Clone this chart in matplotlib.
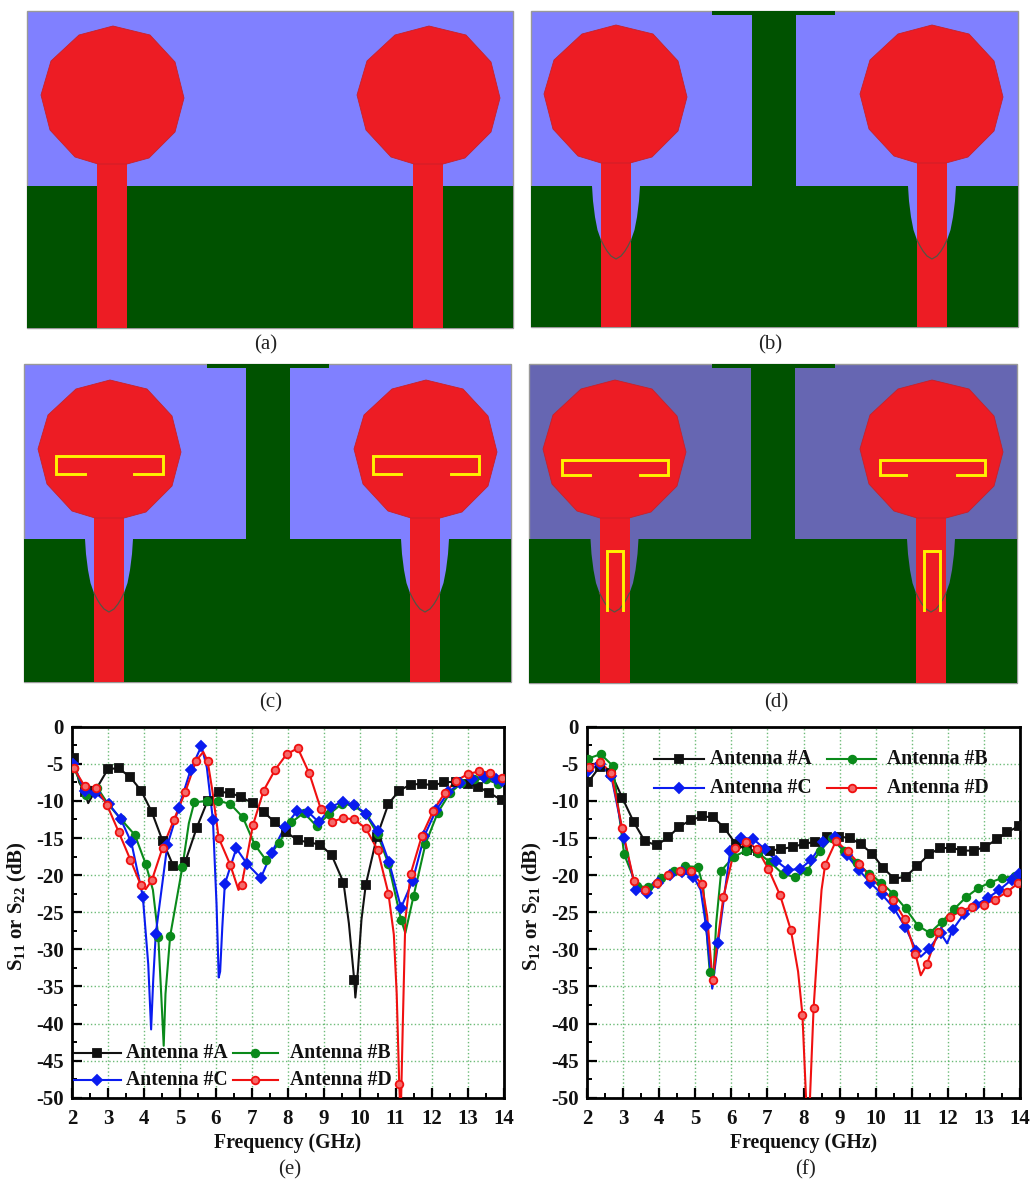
import numpy as np
import matplotlib
matplotlib.use("Agg")
import matplotlib.pyplot as plt
from matplotlib.patches import Polygon, Rectangle
from matplotlib.ticker import MultipleLocator

plt.rcParams['font.family'] = ['Liberation Serif', 'DejaVu Serif']
plt.rcParams['mathtext.fontset'] = 'custom'
plt.rcParams['mathtext.bf'] = 'Liberation Serif:bold'
plt.rcParams['mathtext.rm'] = 'Liberation Serif'
plt.rcParams['axes.unicode_minus'] = False

W, H = 1031, 1180

# --- curvas (e): puntos con marcador y puntos extra en los picos ---
e_a_x = [2.05, 2.35, 2.65, 3.0, 3.3, 3.62, 3.92, 4.22, 4.52, 4.82, 5.15, 5.47, 5.77, 6.08, 6.4, 6.7, 7.03, 7.33, 7.65, 7.95, 8.28, 8.6, 8.9, 9.22, 9.55, 9.85, 10.17, 10.48, 10.8, 11.1, 11.42, 11.73, 12.05, 12.35, 12.67, 13.0, 13.3, 13.6, 13.95]
e_a_y = [-4.2, -8.8, -8.6, -5.7, -5.6, -6.8, -8.6, -11.5, -15.4, -18.8, -18.2, -13.6, -10.0, -8.8, -8.9, -9.5, -10.3, -11.5, -12.9, -14.2, -15.3, -15.6, -15.9, -17.3, -21.0, -34.2, -21.3, -14.8, -10.4, -8.6, -7.8, -7.7, -7.9, -7.5, -7.4, -7.7, -8.1, -8.9, -9.9]
e_a_xd = [2.2, 2.45, 4.95, 9.7, 9.88, 9.95, 10.05]
e_a_yd = [-7.5, -10.3, -19.2, -26.5, -36.5, -33.0, -26.0]

e_b_x = [2.05, 2.38, 2.7, 3.0, 3.35, 3.75, 4.05, 4.4, 4.73, 5.07, 5.4, 5.75, 6.07, 6.4, 6.75, 7.08, 7.4, 7.75, 8.1, 8.45, 8.8, 9.15, 9.5, 9.83, 10.17, 10.5, 10.8, 11.15, 11.5, 11.83, 12.17, 12.5, 12.83, 13.17, 13.5, 13.85]
e_b_y = [-5.5, -9.2, -8.2, -10.4, -12.4, -14.6, -18.5, -28.3, -28.2, -18.9, -10.2, -10.0, -10.0, -10.4, -12.2, -15.9, -18.0, -15.7, -12.9, -11.6, -13.4, -11.8, -10.4, -10.6, -11.8, -14.5, -18.5, -26.0, -22.8, -15.8, -11.6, -9.0, -7.6, -7.0, -7.1, -7.7]
e_b_xd = [4.25, 4.48, 4.55, 4.6, 5.25, 11.27, 14.0]
e_b_yd = [-22.0, -36.0, -43.0, -36.0, -13.0, -27.8, -7.8]

e_c_x = [2.03, 2.35, 2.65, 3.02, 3.35, 3.65, 3.97, 4.33, 4.65, 4.97, 5.3, 5.6, 5.92, 6.25, 6.57, 6.87, 7.25, 7.55, 7.92, 8.25, 8.57, 8.87, 9.2, 9.53, 9.83, 10.17, 10.5, 10.82, 11.15, 11.47, 11.8, 12.13, 12.47, 12.8, 13.13, 13.47, 13.8, 13.97]
e_c_y = [-5.0, -8.6, -8.9, -10.4, -12.4, -15.6, -22.9, -27.9, -16.0, -10.9, -5.8, -2.6, -12.6, -21.2, -16.4, -18.5, -20.4, -17.0, -13.5, -11.4, -11.5, -12.9, -10.8, -10.1, -10.5, -11.7, -14.0, -18.3, -24.4, -20.8, -14.7, -11.2, -8.8, -7.6, -7.0, -6.8, -7.1, -7.3]
e_c_xd = [4.12, 4.2, 4.26, 5.75, 6.02, 6.08, 6.12, 6.18]
e_c_yd = [-32.0, -40.8, -34.0, -5.5, -24.0, -33.8, -33.0, -27.0]

e_d_x = [2.05, 2.35, 2.67, 2.97, 3.3, 3.62, 3.92, 4.22, 4.52, 4.83, 5.15, 5.45, 5.77, 6.08, 6.4, 6.72, 7.03, 7.33, 7.65, 7.97, 8.28, 8.6, 8.92, 9.23, 9.55, 9.85, 10.17, 10.5, 10.8, 11.1, 11.42, 11.73, 12.05, 12.37, 12.68, 13.0, 13.33, 13.63, 13.95]
e_d_y = [-5.6, -8.0, -8.2, -10.5, -14.2, -17.9, -21.4, -20.7, -16.3, -12.6, -8.8, -4.6, -4.6, -15.0, -18.6, -21.3, -13.3, -8.6, -5.8, -3.7, -2.9, -6.3, -11.1, -12.8, -12.3, -12.5, -13.7, -16.6, -22.5, -48.1, -19.8, -14.7, -11.3, -8.9, -7.3, -6.4, -6.0, -6.2, -6.9]
e_d_xd = [4.05, 5.65, 5.9, 6.63, 10.95, 11.03, 11.14, 11.2, 11.27]
e_d_yd = [-21.9, -3.4, -8.5, -22.0, -28.0, -36.0, -53.0, -40.0, -26.0]

# --- curvas (f) ---
f_a_x = [2.03, 2.35, 2.67, 2.98, 3.3, 3.6, 3.93, 4.25, 4.55, 4.87, 5.18, 5.5, 5.8, 6.12, 6.43, 6.75, 7.07, 7.38, 7.7, 8.0, 8.33, 8.65, 8.97, 9.28, 9.58, 9.9, 10.2, 10.52, 10.83, 11.15, 11.47, 11.78, 12.1, 12.4, 12.72, 13.03, 13.35, 13.65, 13.97]
f_a_y = [-7.5, -5.4, -6.3, -9.6, -12.9, -15.4, -16.0, -14.9, -13.5, -12.6, -12.1, -12.2, -13.6, -15.8, -16.6, -16.7, -16.7, -16.5, -16.2, -15.8, -15.5, -14.9, -14.8, -15.0, -15.8, -17.1, -19.0, -20.5, -20.2, -18.8, -17.2, -16.4, -16.3, -16.7, -16.7, -16.2, -15.2, -14.2, -13.4]

f_b_x = [2.03, 2.38, 2.72, 3.03, 3.38, 3.7, 4.05, 4.4, 4.72, 5.07, 5.4, 5.72, 6.07, 6.42, 6.75, 7.08, 7.42, 7.77, 8.1, 8.45, 8.78, 9.12, 9.47, 9.82, 10.15, 10.48, 10.83, 11.17, 11.5, 11.83, 12.17, 12.5, 12.83, 13.17, 13.5, 13.85]
f_b_y = [-4.3, -3.7, -5.3, -17.2, -21.5, -21.6, -20.4, -19.5, -18.8, -18.9, -33.0, -19.4, -17.5, -16.7, -17.0, -18.3, -19.8, -20.3, -19.4, -16.8, -15.0, -16.8, -18.4, -19.8, -21.0, -22.5, -24.5, -26.8, -27.8, -26.3, -24.6, -23.0, -21.8, -21.0, -20.4, -20.1]
f_b_xd = [5.22, 5.5, 5.58, 14.0]
f_b_yd = [-21.5, -34.0, -26.5, -19.9]

f_c_x = [2.03, 2.35, 2.67, 3.02, 3.35, 3.67, 3.98, 4.3, 4.62, 4.95, 5.3, 5.63, 5.97, 6.27, 6.6, 6.93, 7.25, 7.57, 7.9, 8.22, 8.55, 8.88, 9.2, 9.53, 9.85, 10.17, 10.5, 10.82, 11.13, 11.47, 11.8, 12.13, 12.45, 12.78, 13.1, 13.43, 13.77, 13.97]
f_c_y = [-6.0, -5.0, -6.6, -15.0, -22.0, -22.4, -21.0, -20.0, -19.6, -20.2, -26.9, -29.2, -16.7, -15.0, -15.1, -16.5, -18.1, -19.3, -19.2, -17.9, -15.5, -14.9, -17.3, -19.3, -21.0, -22.6, -24.4, -27.0, -30.2, -30.0, -27.8, -27.4, -25.2, -24.0, -23.1, -22.0, -20.6, -19.9]
f_c_xd = [5.15, 5.47, 11.25, 11.98]
f_c_yd = [-22.0, -35.3, -31.0, -29.2]

f_d_x = [2.05, 2.35, 2.67, 2.97, 3.3, 3.62, 3.93, 4.25, 4.57, 4.87, 5.18, 5.48, 5.78, 6.1, 6.42, 6.72, 7.03, 7.35, 7.65, 7.97, 8.28, 8.6, 8.9, 9.22, 9.55, 9.85, 10.17, 10.48, 10.8, 11.1, 11.42, 11.73, 12.05, 12.37, 12.67, 13.0, 13.3, 13.63, 13.95]
f_d_y = [-5.4, -4.7, -6.2, -13.6, -20.8, -22.0, -21.0, -20.0, -19.5, -19.5, -21.2, -34.2, -22.9, -16.3, -15.5, -16.5, -19.2, -22.7, -27.4, -38.8, -37.9, -18.6, -15.4, -16.8, -18.5, -20.2, -21.8, -23.4, -25.9, -30.6, -32.0, -27.7, -25.7, -24.8, -24.3, -24.0, -23.3, -22.3, -21.1]
f_d_xd = [5.33, 7.85, 8.07, 8.12, 8.18, 8.42, 8.5, 11.25]
f_d_yd = [-25.5, -33.0, -50.0, -56.0, -50.0, -27.5, -22.0, -33.5]

series_labels = ["Antenna #A", "Antenna #B", "Antenna #C", "Antenna #D"]
series_colors = ["#111111", "#0a8a1a", "#0a1cf0", "#f01010"]
series_markers = ["s", "o", "D", "o"]
panel_labels = ["(a)", "(b)", "(c)", "(d)", "(e)", "(f)"]
x_ticks = [2, 3, 4, 5, 6, 7, 8, 9, 10, 11, 12, 13, 14]
y_ticks = [0, -5, -10, -15, -20, -25, -30, -35, -40, -45, -50]

# --- geometria de las antenas, en pixeles de la imagen ---
patch_shape = [(0, -69), (37, -60), (62, -33), (71, 3), (62, 37), (36, 63), (14, 69), (-15, 69), (-38, 62), (-63, 35), (-72, 0), (-62, -34), (-34, -60)]
slot_shape = [(24, 0), (23, 15), (21, 31), (18.5, 44), (15, 54), (12, 60), (9, 65), (5, 70), (0, 73)]

# left, right, top, bottom, y de la tierra, y del parche, x de los parches, x de las lineas
board_a = (27, 513, 11, 327.5, 186, 95, (113, 429), (97, 413))
board_b = (531, 1017.5, 11, 327, 186, 94, (616, 932), (601, 917))
board_c = (24, 511, 364, 682, 539, 449, (110, 426), (94, 410))
board_d = (529, 1017, 364, 683, 539, 449, (615, 932), (599.5, 916))
stub_b = (752, 796, 712, 835)
stub_c = (246, 290, 207, 329)
stub_d = (751, 795, 712, 835)
c_slot_c = [(55.5, 162.5, 456, 474, 85, 134), (372.5, 478.5, 456, 474, 401, 451)]
c_slot_d = [(562, 668, 459.5, 475, 590, 640), (879.5, 985, 459.5, 475, 906, 957)]
u_slot_d = [(607, 623, 550.5, 610), (924, 939.5, 550.5, 610)]

BLUE = "#8080ff"
BLUE_D = "#6666b2"
GREEN = "#005200"
RED = "#ed1c24"
YELLOW = "#fff200"


def dibujar_placa(ax, board, stub=None, sub=BLUE, slots=False, c_slots=None, u_slots=None):
    left, right, top, bottom, yg, yp, xps, xfs = board
    ax.add_patch(Rectangle((left, top), right - left, bottom - top, fc=sub, ec="#999999", lw=1, zorder=1))
    ax.add_patch(Rectangle((left, yg), right - left, bottom - yg, fc=GREEN, ec="none", zorder=2))
    if stub:
        x0, x1, b0, b1 = stub
        ax.add_patch(Rectangle((x0, top), x1 - x0, yg - top + 1, fc=GREEN, ec="none", zorder=2))
        ax.add_patch(Rectangle((b0, top), b1 - b0, 4, fc=GREEN, ec="none", zorder=2))
    for xp, xf in zip(xps, xfs):
        if slots:
            cx = xf + 15
            ri = [(cx + a, yg + b) for a, b in slot_shape]
            le = [(cx - a, yg + b) for a, b in slot_shape[::-1]]
            ax.add_patch(Polygon(ri + le, closed=True, fc=sub, ec="none", zorder=3))
        ax.add_patch(Rectangle((xf, yp + 60), 30, bottom - yp - 60, fc=RED, ec="none", zorder=4))
        ax.add_patch(Polygon([(xp + a, yp + b) for a, b in patch_shape], closed=True, fc=RED, ec="#c8202a", lw=0.6, zorder=4))
        if slots:
            arc = [(cx + a, yg + b) for a, b in slot_shape if a <= 16][::-1]
            arc = [(cx - a, yg + b) for a, b in slot_shape if a <= 16] + arc[1:]
            ax.plot([p[0] for p in arc], [p[1] for p in arc], color="#555544", lw=0.9, zorder=5)
    for x0, x1, y0, y1, a0, a1 in (c_slots or []):
        ax.plot([a0, x0, x0, x1, x1, a1], [y1, y1, y0, y0, y1, y1], color=YELLOW, lw=2.1, solid_joinstyle="miter", zorder=6)
    for x0, x1, y0, y1 in (u_slots or []):
        ax.plot([x0, x0, x1, x1], [y1, y0, y0, y1], color=YELLOW, lw=2.1, solid_joinstyle="miter", zorder=6)


def dibujar_curvas(ax, curvas):
    for (xm, ym, xd, yd), col, mk in zip(curvas, series_colors, series_markers):
        # la linea pasa por los marcadores y por los puntos extra de los picos
        xs = np.array(list(xm) + list(xd))
        ys = np.array(list(ym) + list(yd))
        orden = np.argsort(xs)
        ms = 5 if mk == "D" else 5.5
        ax.plot(xs[orden], ys[orden], color=col, lw=1.5, zorder=3)
        mfc = "#f46a6a" if col == "#f01010" else col
        ax.plot(xm, ym, ls="none", marker=mk, ms=ms, mfc=mfc, mec=col, mew=1.3, zorder=4)


def leyenda(ax, idx, x0, largo, y0, y1, pad):
    # una columna de la leyenda: (x0, x0+largo) en GHz, fila superior y0 e inferior y1
    for i, yy in zip(idx, (y0, y1)):
        col, mk = series_colors[i], series_markers[i]
        ax.plot([x0, x0 + largo], [yy, yy], color=col, lw=1.5, zorder=6)
        mfc = "#f46a6a" if i == 3 else col
        ax.plot([x0 + largo / 2], [yy], marker=mk, ms=5.5, mfc=mfc, mec=col, mew=1.3, zorder=6)
        ax.text(x0 + largo + pad, yy, series_labels[i], fontsize=14.2, fontweight="bold", color="#111111", va="center", ha="left", zorder=6)


def formato_ejes(ax, ylabel):
    ax.set_xlim(2, 14)
    ax.set_ylim(-50, 0)
    ax.set_xticks(x_ticks)
    ax.set_yticks(y_ticks)
    ax.xaxis.set_minor_locator(MultipleLocator(0.5))
    ax.yaxis.set_minor_locator(MultipleLocator(2.5))
    ax.tick_params(which="major", direction="in", length=7, width=1.6, labelsize=15)
    ax.tick_params(axis="x", which="major", pad=8)
    ax.tick_params(axis="y", which="major", pad=6)
    ax.tick_params(which="minor", direction="in", length=3.5, width=1.4)
    for lab in ax.get_xticklabels() + ax.get_yticklabels():
        lab.set_fontweight("bold")
        lab.set_color("#111111")
    for s in ax.spines.values():
        s.set_linewidth(2)
    ax.grid(True, which="major", color="#2f9f3f", ls=":", lw=1.0, alpha=0.7)
    ax.set_axisbelow(True)
    ax.set_xlabel("Frequency (GHz)", fontsize=14.2, fontweight="bold", color="#111111", labelpad=3)
    ax.set_ylabel(ylabel, fontsize=15, fontweight="bold", color="#111111")
    ax.yaxis.set_label_coords(-0.10, 0.517)


fig = plt.figure(figsize=(W / 100, H / 100), dpi=100)

# capa de fondo en pixeles para las cuatro placas
bg = fig.add_axes([0, 0, 1, 1])
bg.set_xlim(0, W)
bg.set_ylim(H, 0)
bg.axis("off")
dibujar_placa(bg, board_a)
dibujar_placa(bg, board_b, stub=stub_b, slots=True)
dibujar_placa(bg, board_c, stub=stub_c, slots=True, c_slots=c_slot_c)
dibujar_placa(bg, board_d, stub=stub_d, sub=BLUE_D, slots=True, c_slots=c_slot_d, u_slots=u_slot_d)

label_pos = [(266, 345), (770, 345), (271, 703), (776, 703), (290, 1170), (805, 1170)]
for txt, (px, py) in zip(panel_labels, label_pos):
    bg.text(px, py, txt, fontsize=15, ha="center", va="center", color="#222222")

ax_e = fig.add_axes([72 / W, 1 - 1097.7 / H, (503.5 - 72) / W, (1097.7 - 726.7) / H])
ax_f = fig.add_axes([587 / W, 1 - 1097.7 / H, (1020 - 587) / W, (1097.7 - 726.7) / H])

dibujar_curvas(ax_e, [(e_a_x, e_a_y, e_a_xd, e_a_yd), (e_b_x, e_b_y, e_b_xd, e_b_yd),
                      (e_c_x, e_c_y, e_c_xd, e_c_yd), (e_d_x, e_d_y, e_d_xd, e_d_yd)])
dibujar_curvas(ax_f, [(f_a_x, f_a_y, [], []), (f_b_x, f_b_y, f_b_xd, f_b_yd),
                      (f_c_x, f_c_y, f_c_xd, f_c_yd), (f_d_x, f_d_y, f_d_xd, f_d_yd)])

leyenda(ax_e, (0, 2), 2.05, 1.3, -44.0, -47.6, 0.15)
leyenda(ax_e, (1, 3), 6.47, 1.26, -44.0, -47.6, 0.32)
leyenda(ax_f, (0, 2), 3.86, 1.38, -4.4, -8.3, 0.17)
leyenda(ax_f, (1, 3), 8.65, 1.37, -4.4, -8.3, 0.3)

formato_ejes(ax_e, r"$\mathbf{S}_{\mathbf{11}}$ or $\mathbf{S}_{\mathbf{22}}$ (dB)")
formato_ejes(ax_f, r"$\mathbf{S}_{\mathbf{12}}$ or $\mathbf{S}_{\mathbf{21}}$ (dB)")

fig.savefig("out.png", dpi=100)
